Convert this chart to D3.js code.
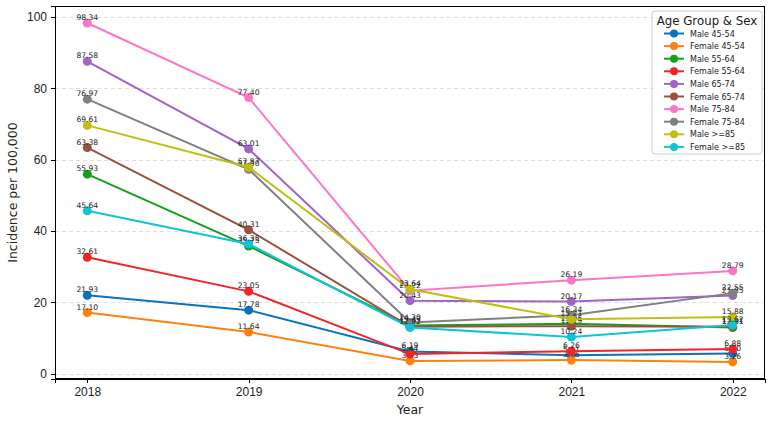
<!DOCTYPE html>
<html lang="en">
<head>
    <meta charset="UTF-8">
    <title>Incidence by age group and sex</title>
    <script src="https://cdn.jsdelivr.net/npm/d3@7/dist/d3.min.js"></script>
    <style>
        body { margin: 0; background: #fff; }
        svg { font-family: "DejaVu Sans", sans-serif; }
        .axis path, .axis line { stroke: #000; shape-rendering: crispEdges; }
        .axis text { font-size: 12px; fill: #222; }
        .grid line { stroke: #ddd; stroke-dasharray: 4,3; }
        .lbl { font-size: 7.6px; fill: #222; text-anchor: middle; }
    </style>
</head>
<body>
<script>
	var years = [2018, 2019, 2020, 2021, 2022];
	var seriesNames = ["Male 45-54", "Female 45-54", "Male 55-64", "Female 55-64", "Male 65-74",
		"Female 65-74", "Male 75-84", "Female 75-84", "Male >=85", "Female >=85"];
	var male4554 = [21.93, 17.78, 6.19, 5.11, 5.60];
	var female4554 = [17.10, 11.64, 3.53, 3.76, 3.26];
	var male5564 = [55.93, 35.75, 13.47, 13.96, 12.91];
	var female5564 = [32.61, 23.05, 5.44, 6.26, 6.88];
	var male6574 = [87.58, 63.01, 20.43, 20.17, 21.85];
	var female6574 = [63.38, 40.31, 13.12, 13.29, 13.11];
	var male7584 = [98.34, 77.40, 23.22, 26.19, 28.79];
	var female7584 = [76.97, 57.30, 14.30, 16.34, 22.55];
	var male85 = [69.61, 57.87, 23.64, 15.21, 15.88];
	var female85 = [45.64, 36.35, 12.92, 10.24, 13.62];
	var yTicks = [0, 20, 40, 60, 80, 100];

	var allValues = [male4554, female4554, male5564, female5564, male6574,
		female6574, male7584, female7584, male85, female85];
	var colors = ["#0b72bd", "#ff800e", "#10a21a", "#f52424", "#a064c8",
		"#98523f", "#ff74c8", "#808080", "#bfbf12", "#10c4d8"];

	var width = 772, height = 422;
	var padding = {left: 55, right: 7, top: 6, bottom: 43};
	var svg = d3.select("body").append("svg")
		.attr("width", width)
		.attr("height", height);

	// x 与 y 的比例尺（留出 5% 边距，同 matplotlib）
	var xScale = d3.scaleLinear()
		.domain([2017.8, 2022.2])
		.range([padding.left, width - padding.right]);
	var yScale = d3.scaleLinear()
		.domain([-1.54, 103.1])
		.range([height - padding.bottom, padding.top]);

	// 横向网格线
	svg.append("g")
		.attr("class", "grid")
		.selectAll("line")
		.data(yTicks)
		.enter()
		.append("line")
		.attr("x1", padding.left)
		.attr("x2", width - padding.right)
		.attr("y1", function (d) { return Math.round(yScale(d)) + 0.5; })
		.attr("y2", function (d) { return Math.round(yScale(d)) + 0.5; });

	var line = d3.line()
		.x(function (d, i) { return xScale(years[i]); })
		.y(function (d) { return yScale(d); });

	var groups = svg.selectAll(".series")
		.data(allValues)
		.enter()
		.append("g")
		.attr("class", "series");

	groups.append("path")
		.attr("d", function (d) { return line(d); })
		.attr("fill", "none")
		.attr("stroke", function (d, i) { return colors[i]; })
		.attr("stroke-width", 2);

	groups.each(function (vals, s) {
		d3.select(this).selectAll("circle")
			.data(vals)
			.enter()
			.append("circle")
			.attr("cx", function (d, i) { return xScale(years[i]); })
			.attr("cy", function (d) { return yScale(d); })
			.attr("r", 4.5)
			.attr("fill", colors[s]);
	});

	// 数值标签
	groups.each(function (vals) {
		d3.select(this).selectAll("text")
			.data(vals)
			.enter()
			.append("text")
			.attr("class", "lbl")
			.attr("x", function (d, i) { return xScale(years[i]); })
			.attr("y", function (d) { return yScale(d) - 3; })
			.text(function (d) { return d.toFixed(2); });
	});

	// 坐标轴
	var xAxis = d3.axisBottom(xScale).tickValues(years).tickFormat(d3.format("d")).tickSizeOuter(0).tickSize(4).tickPadding(4);
	var yAxis = d3.axisLeft(yScale).tickValues(yTicks).tickSizeOuter(0).tickSize(4).tickPadding(4);

	svg.append("g")
		.attr("class", "axis")
		.attr("transform", "translate(0," + (height - padding.bottom) + ")")
		.call(xAxis);
	svg.append("g")
		.attr("class", "axis")
		.attr("transform", "translate(" + padding.left + ",0)")
		.call(yAxis);

	// 边框
	svg.append("rect")
		.attr("x", padding.left + 0.5)
		.attr("y", padding.top + 0.5)
		.attr("width", width - padding.left - padding.right - 1)
		.attr("height", height - padding.top - padding.bottom - 1)
		.attr("fill", "none")
		.attr("stroke", "#000")
		.attr("stroke-width", 1);

	svg.append("text")
		.attr("x", (padding.left + width - padding.right) / 2)
		.attr("y", 414)
		.attr("text-anchor", "middle")
		.attr("font-size", 12.5)
		.attr("fill", "#222")
		.text("Year");
	svg.append("text")
		.attr("transform", "translate(17," + ((padding.top + height - padding.bottom) / 2) + ") rotate(-90)")
		.attr("text-anchor", "middle")
		.attr("font-size", 12.5)
		.attr("fill", "#222")
		.text("Incidence per 100,000");

	// 图例
	var legend = svg.append("g").attr("transform", "translate(652,11)");
	legend.append("rect")
		.attr("width", 110)
		.attr("height", 143)
		.attr("rx", 3)
		.attr("fill", "#fff")
		.attr("fill-opacity", 0.8)
		.attr("stroke", "#ccc");
	legend.append("text")
		.attr("x", 55)
		.attr("y", 13.5)
		.attr("text-anchor", "middle")
		.attr("font-size", 11.8)
		.attr("font-weight", "normal")
		.attr("fill", "#1a1a1a")
		.text("Age Group & Sex");
	var items = legend.selectAll(".item")
		.data(seriesNames)
		.enter()
		.append("g")
		.attr("class", "item")
		.attr("transform", function (d, i) { return "translate(0," + (22.5 + i * 12.6) + ")"; });
	items.append("line")
		.attr("x1", 12).attr("x2", 32)
		.attr("stroke", function (d, i) { return colors[i]; })
		.attr("stroke-width", 2);
	items.append("circle")
		.attr("cx", 22)
		.attr("r", 4)
		.attr("fill", function (d, i) { return colors[i]; });
	items.append("text")
		.attr("x", 38)
		.attr("y", 3)
		.attr("font-size", 8)
		.attr("fill", "#222")
		.text(function (d) { return d; });
</script>
</body>
</html>
